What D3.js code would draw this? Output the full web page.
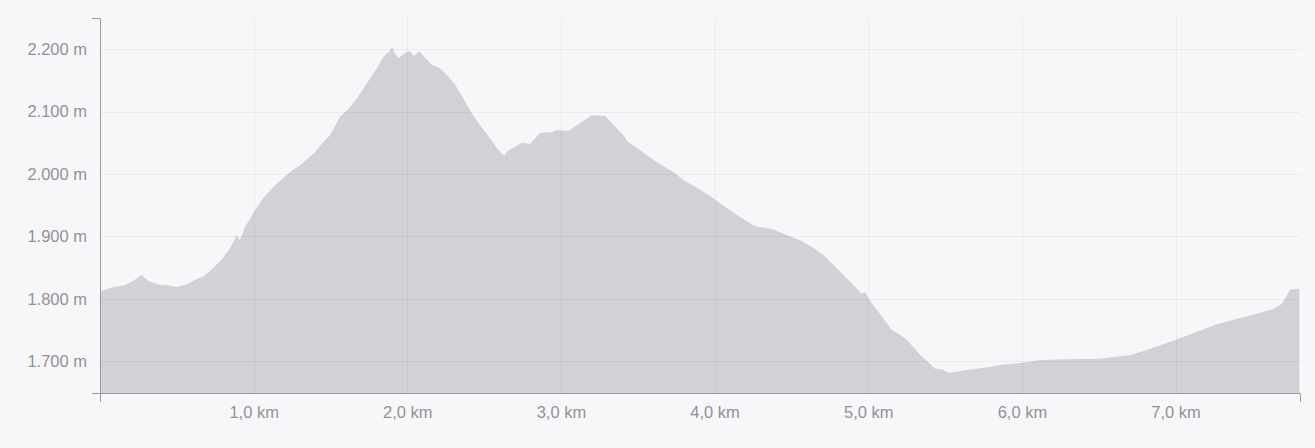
<!DOCTYPE html>
<html>
<head>
<meta charset="utf-8">
<script src="https://cdn.jsdelivr.net/npm/d3@7"></script>
<style>
  html, body { margin: 0; padding: 0; background: #f7f7fa; }
  svg { display: block; }
  text { font-family: "Liberation Sans", Arial, sans-serif; }
</style>
</head>
<body>
<svg id="chart" width="1315" height="448"></svg>
<script>
// Distance along route (km)
const distanceKm = [0, 0.076, 0.163, 0.217, 0.271, 0.314, 0.380, 0.434, 0.499, 0.564,
  0.618, 0.673, 0.727, 0.792, 0.846, 0.890, 0.911, 0.944, 1.009, 1.061,
  1.139, 1.237, 1.302, 1.400, 1.445, 1.497, 1.563, 1.617, 1.671, 1.736,
  1.801, 1.844, 1.877, 1.903, 1.914, 1.942, 1.979, 2.012, 2.044, 2.079,
  2.116, 2.160, 2.214, 2.257, 2.311, 2.365, 2.420, 2.474, 2.539, 2.593,
  2.630, 2.658, 2.691, 2.745, 2.799, 2.865, 2.941, 2.973, 3.049, 3.114,
  3.201, 3.288, 3.364, 3.418, 3.429, 3.516, 3.624, 3.732, 3.798, 3.885,
  3.993, 4.080, 4.167, 4.253, 4.275, 4.383, 4.471, 4.557, 4.633, 4.709,
  4.796, 4.883, 4.959, 4.980, 5.002, 5.057, 5.154, 5.208, 5.252, 5.339,
  5.436, 5.480, 5.523, 5.642, 5.773, 5.859, 5.990, 6.120, 6.294, 6.510,
  6.706, 6.836, 6.999, 7.140, 7.270, 7.400, 7.530, 7.639, 7.693, 7.726,
  7.747, 7.806];
// Elevation (m)
const elevationM = [1812, 1818, 1822, 1829, 1838, 1829, 1823, 1822, 1819, 1823,
  1830, 1836, 1847, 1863, 1881, 1902, 1894, 1915, 1942, 1961,
  1982, 2003, 2014, 2035, 2049, 2062, 2092, 2104, 2121, 2145,
  2169, 2188, 2195, 2203, 2195, 2186, 2193, 2197, 2189, 2197,
  2186, 2175, 2169, 2159, 2143, 2121, 2097, 2078, 2057, 2038,
  2030, 2038, 2042, 2050, 2048, 2066, 2067, 2070, 2069, 2080,
  2094, 2093, 2073, 2059, 2053, 2038, 2019, 2003, 1990, 1978,
  1961, 1945, 1931, 1918, 1916, 1911, 1902, 1894, 1883, 1870,
  1849, 1827, 1808, 1811, 1800, 1782, 1750, 1742, 1734, 1710,
  1688, 1687, 1681, 1686, 1690, 1694, 1697, 1702, 1703, 1704,
  1710, 1720, 1734, 1747, 1759, 1768, 1776, 1784, 1792, 1806,
  1815, 1816];
const yTicks = [1700, 1800, 1900, 2000, 2100, 2200];
const xTicks = [1, 2, 3, 4, 5, 6, 7];
const xDomain = [0, 7.81];
const yDomain = [1649, 2250];

(function () {
  const data = distanceKm.map((d, i) => ({ x: d, y: elevationM[i] }));

  const svg = d3.select("#chart");
  const mLeft = 100, mRight = 1300, mTop = 18, mBottom = 393;

  const locale = d3.formatLocale({ decimal: ",", thousands: ".", grouping: [3], currency: ["", " €"] });
  const fmtY = locale.format(",.0f");
  const fmtX = locale.format(".1f");

  const x = d3.scaleLinear().domain(xDomain).range([mLeft, mRight]);
  const y = d3.scaleLinear().domain(yDomain).range([mBottom, mTop]);

  // area
  const area = d3.area().x(d => x(d.x)).y0(mBottom).y1(d => y(d.y));
  svg.append("path").datum(data).attr("d", area).attr("fill", "#d2d1d6");

  // grid
  const grid = svg.append("g").attr("stroke", "rgba(20,20,60,0.055)").attr("stroke-width", 1);
  grid.selectAll("line.h").data(yTicks).join("line").attr("class", "h")
    .attr("x1", mLeft).attr("x2", mRight)
    .attr("y1", d => Math.round(y(d)) + 0.5).attr("y2", d => Math.round(y(d)) + 0.5);
  grid.selectAll("line.v").data(xTicks).join("line").attr("class", "v")
    .attr("y1", mTop).attr("y2", mBottom)
    .attr("x1", d => Math.round(x(d)) + 0.5).attr("x2", d => Math.round(x(d)) + 0.5);

  // axes
  const axisColor = "#9a9a9e";
  const yAxis = svg.append("g").attr("transform", `translate(${mLeft},0)`)
    .call(d3.axisLeft(y).tickValues(yTicks).tickSizeInner(0).tickSizeOuter(8).tickPadding(13)
      .tickFormat(d => fmtY(d) + " m"));
  const xAxis = svg.append("g").attr("transform", `translate(0,${mBottom})`)
    .call(d3.axisBottom(x).tickValues(xTicks).tickSizeInner(0).tickSizeOuter(9).tickPadding(13)
      .tickFormat(d => fmtX(d) + " km"));
  [yAxis, xAxis].forEach(g => {
    g.select(".domain").attr("stroke", axisColor);
    g.selectAll("text").attr("fill", "#929296").attr("font-size", 16.5)
      .attr("font-family", "'Liberation Sans', Arial, sans-serif");
  });
})();
</script>
</body>
</html>
